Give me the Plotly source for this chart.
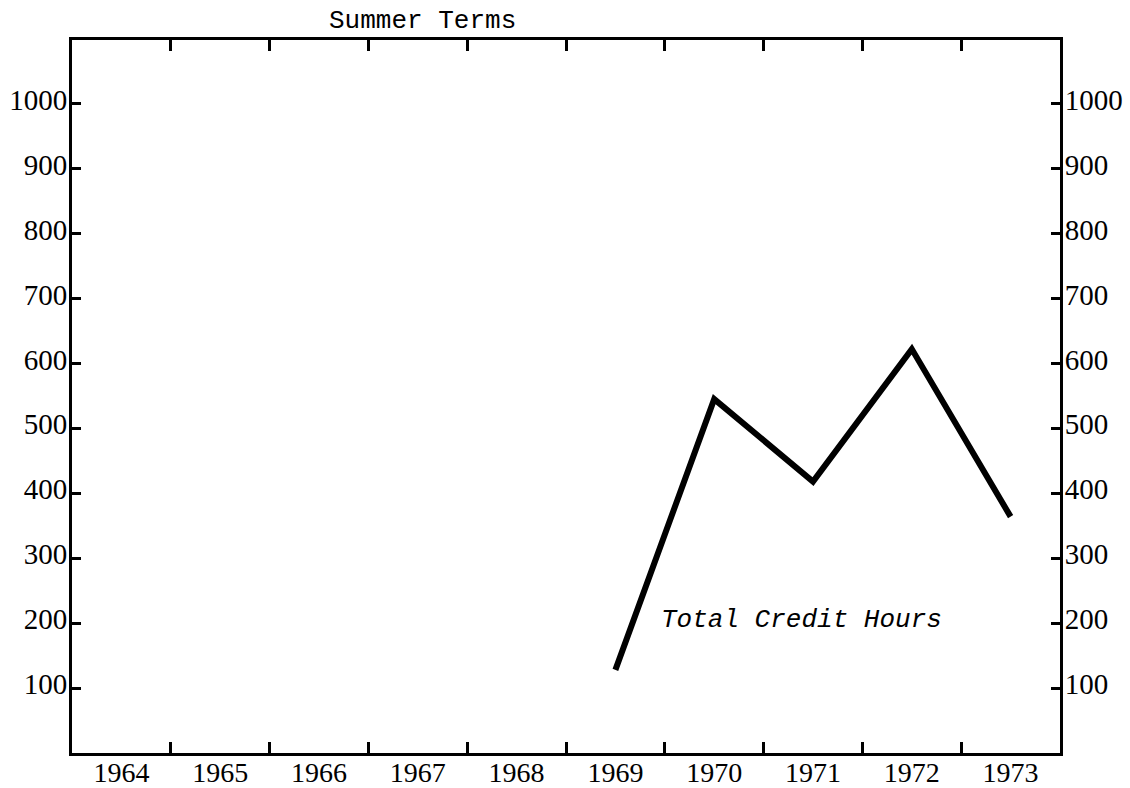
import plotly.graph_objects as go

years = ["1964", "1965", "1966", "1967", "1968", "1969", "1970", "1971", "1972", "1973"]
credit_hours = [None, None, None, None, None, 128, 545, 418, 622, 364]
y_ticks = [100, 200, 300, 400, 500, 600, 700, 800, 900, 1000]

title_text = "Summer Terms"
series_label = "Total Credit Hours"

num_font = dict(family="Liberation Serif", size=29, color="black")
x_font = dict(family="Liberation Serif", size=28, color="black")

fig = go.Figure()
fig.add_trace(go.Scatter(
    x=years, y=credit_hours, mode="lines",
    line=dict(color="black", width=6),
    showlegend=False, hoverinfo="skip",
))
# invisible copy so the right-hand axis is rendered
fig.add_trace(go.Scatter(
    x=years, y=credit_hours, mode="lines", yaxis="y2",
    line=dict(color="rgba(0,0,0,0)", width=0),
    showlegend=False, hoverinfo="skip",
))

fig.update_layout(
    width=1130, height=788,
    margin=dict(l=72, r=70, t=40, b=35, autoexpand=False),
    paper_bgcolor="white", plot_bgcolor="white",
    xaxis=dict(
        type="category", categoryorder="array", categoryarray=years,
        range=[-0.5, 9.5], tickson="boundaries", automargin=False,
        ticks="inside", ticklen=11, tickwidth=3, tickcolor="black",
        showline=True, linewidth=3, linecolor="black", mirror="ticks",
        showgrid=False, zeroline=False, tickfont=x_font,
        ticklabelstandoff=-8,
    ),
    yaxis=dict(
        range=[0, 1098], tickvals=y_ticks, ticktext=[str(v) for v in y_ticks],
        ticks="inside", ticklen=9, tickwidth=3, tickcolor="black", automargin=False,
        showline=True, linewidth=3, linecolor="black",
        showgrid=False, zeroline=False, tickfont=num_font,
        ticklabelstandoff=-4, ticklabelshift=-4,
    ),
    yaxis2=dict(
        overlaying="y", side="right",
        range=[0, 1098], tickvals=y_ticks, ticktext=[str(v) for v in y_ticks],
        ticks="inside", ticklen=9, tickwidth=3, tickcolor="black", automargin=False,
        showline=True, linewidth=3, linecolor="black",
        showgrid=False, zeroline=False, tickfont=num_font,
        ticklabelstandoff=-4, ticklabelshift=-4,
    ),
    annotations=[
        dict(text=title_text, xref="paper", yref="paper", x=0.355, y=1.0266,
             xanchor="center", yanchor="middle", showarrow=False,
             font=dict(family="Liberation Mono", size=26, color="black")),
        dict(text="<i>" + series_label + "</i>", xref="paper", yref="paper",
             x=0.738, y=0.1865, xanchor="center", yanchor="middle", showarrow=False,
             font=dict(family="Liberation Mono", size=26, color="black")),
    ],
)

fig.write_html("out.html", config={"displayModeBar": False},
               post_script="document.body.style.margin='0';")
